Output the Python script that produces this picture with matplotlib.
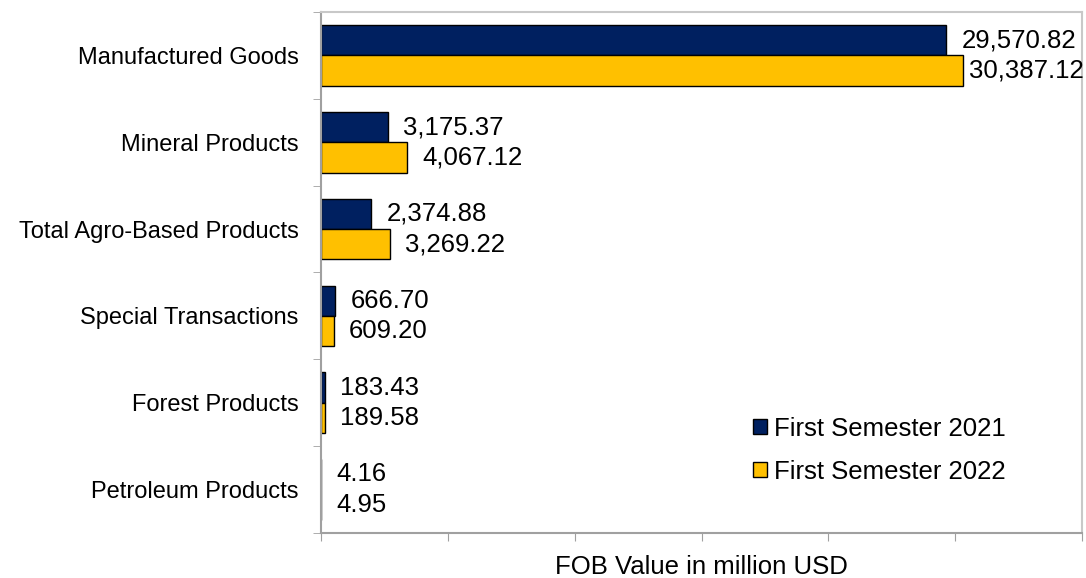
import matplotlib.pyplot as plt
import numpy as np

plt.rcParams['font.family'] = ['Liberation Sans', 'DejaVu Sans']

# FOB value of exports by product group, million USD
categorias = ["Manufactured Goods", "Mineral Products", "Total Agro-Based Products",
              "Special Transactions", "Forest Products", "Petroleum Products"]
sem_2021 = [29570.82, 3175.37, 2374.88, 666.70, 183.43, 4.16]
sem_2022 = [30387.12, 4067.12, 3269.22, 609.20, 189.58, 4.95]
series = ["First Semester 2021", "First Semester 2022"]

azul = "#002060"
amarelo = "#FFC000"

fig = plt.figure(figsize=(10.86, 5.78), dpi=100)
ax = fig.add_axes([0.2956, 0.0779, 0.7007, 0.9013])

y = np.arange(len(categorias))
h = 0.35
b1 = ax.barh(y - h / 2, sem_2021, height=h, color=azul, edgecolor="black", linewidth=1, label=series[0])
b2 = ax.barh(y + h / 2, sem_2022, height=h, color=amarelo, edgecolor="black", linewidth=1, label=series[1])

ax.set_xlim(0, 36000)
ax.set_ylim(len(categorias) - 0.5, -0.5)

# rótulos de valor
rotulos = []
for barras, valores in [(b1, sem_2021), (b2, sem_2022)]:
    for bar, v in zip(barras, valores):
        t = ax.annotate(f"{v:,.2f}", (v, bar.get_y() + bar.get_height() / 2),
                        xytext=(11, 0), textcoords="offset points",
                        ha="left", va="center", fontsize=18.5, color="black")
        rotulos.append(t)

fig.canvas.draw()
r = fig.canvas.get_renderer()
limite = fig.bbox.width - 2
for t in rotulos:
    bb = t.get_window_extent(r)
    if bb.x1 > limite:
        dx = (bb.x1 - limite) * 72 / fig.dpi
        t.xyann = (t.xyann[0] - dx, 0)

# eixos
ax.set_yticks(y)
ax.set_yticklabels(categorias, fontsize=17)
ax.set_yticks(np.arange(-0.5, len(categorias)), minor=True)
ax.tick_params(axis="y", which="major", length=0, pad=16)
ax.tick_params(axis="y", which="minor", length=6, color="#A0A0A0", direction="out")
ax.set_xticks(np.arange(0, 36001, 6000))
ax.set_xticklabels([])
ax.tick_params(axis="x", length=6, color="#A0A0A0", direction="out")

for lado in ["left", "bottom"]:
    ax.spines[lado].set_color("#A0A0A0")
    ax.spines[lado].set_linewidth(1.5)
for lado in ["top", "right"]:
    ax.spines[lado].set_color("#C8C8C8")
    ax.spines[lado].set_linewidth(1.5)

ax.set_xlabel("FOB Value in million USD", fontsize=18.5, labelpad=6)

leg = ax.legend(loc="lower right", bbox_to_anchor=(0.93, 0.05), frameon=False,
                fontsize=18.5, handlelength=0.55, handleheight=0.55, handletextpad=0.25,
                labelspacing=0.75)

fig.savefig("out.png", dpi=100)
